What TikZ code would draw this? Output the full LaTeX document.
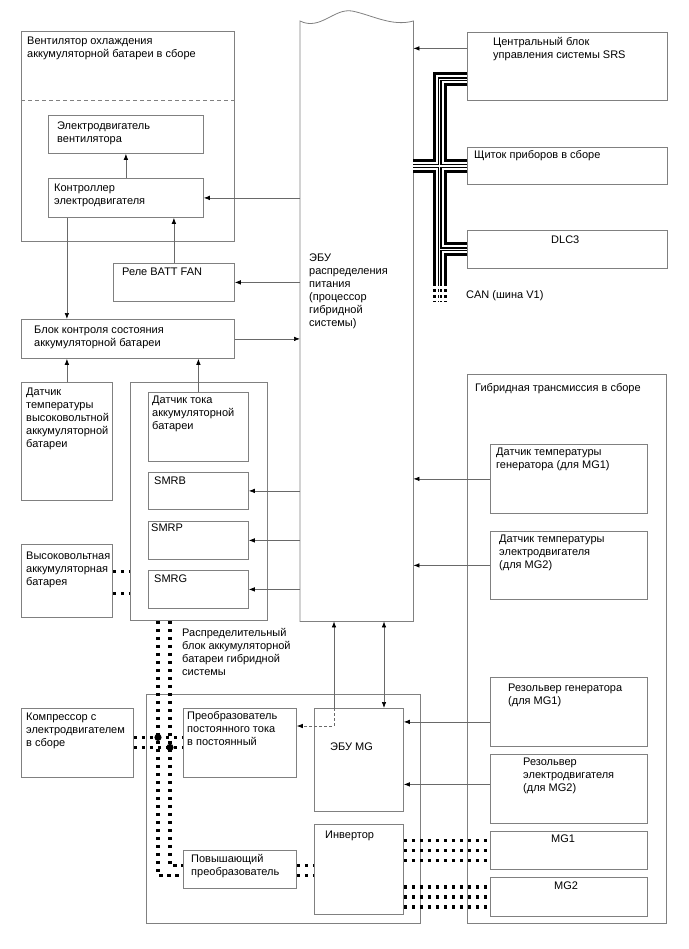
\documentclass[tikz,border=0pt]{standalone}
\usepackage{fontspec}
\setmainfont{Liberation Sans}
\usetikzlibrary{arrows.meta,positioning,calc}

\definecolor{boxgray}{RGB}{128,128,128}
\definecolor{linegray}{RGB}{105,105,105}

\tikzset{
  box/.style={draw=boxgray,line width=.8pt,inner sep=0,anchor=north west},
  txt/.style={font=\fontsize{11}{13}\selectfont,align=left,inner sep=0,anchor=north west},
  arr/.style={draw=linegray,line width=.7pt,->},
  power/.style={line width=3.6pt,dash pattern=on 3.6pt off 4.4pt},
}

\begin{document}
\begin{tikzpicture}[x=1pt,y=-1pt,>={Latex[length=6pt,width=4.5pt,color=black]}]
\useasboundingbox (0,0) rectangle (688,949);

% fan assembly
\node[box,minimum width=213,minimum height=210] (fanasm) at (21,31) {};
\node[txt] (fanasm-t) at (27,36.5) {Вентилятор охлаждения\\аккумуляторной батареи в сборе};
\draw[boxgray,line width=.8pt,dash pattern=on 4pt off 3pt] ([yshift=-69]fanasm.north west) -- ([yshift=-69]fanasm.north east);
\node[box,minimum width=155,minimum height=38] (fanmotor) at (48,115) {};
\node[txt] (fanmotor-t) at (57,122) {Электродвигатель\\вентилятора};
\node[box,minimum width=155,minimum height=39] (fanctrl) at (48,178) {};
\node[txt] (fanctrl-t) at (54,184) {Контроллер\\электродвигателя};
\node[box,minimum width=121,minimum height=38] (relay) at (113,263) {};
\node[txt] (relay-t) at (122,267.5) {Реле BATT FAN};

% battery side
\node[box,minimum width=213,minimum height=39] (bms) at (21,319) {};
\node[txt] (bms-t) at (34,326) {Блок контроля состояния\\аккумуляторной батареи};
\node[box,minimum width=91,minimum height=118] (tempsens) at (21,382) {};
\node[txt] (tempsens-t) at (26,388) {Датчик\\температуры\\высоковольтной\\аккумуляторной\\батареи};
\node[box,minimum width=91,minimum height=73] (hvbatt) at (21,544) {};
\node[txt] (hvbatt-t) at (26,551.5) {Высоковольтная\\аккумуляторная\\батарея};
\node[box,minimum width=137,minimum height=238] (junction) at (130,382) {};
\node[box,minimum width=100,minimum height=69] (cursens) at (148,392) {};
\node[txt] (cursens-t) at (152,396) {Датчик тока\\аккумуляторной\\батареи};
\node[box,minimum width=100,minimum height=37] (smrb) at (148,472) {};
\node[txt] (smrb-t) at (154,476.5) {SMRB};
\node[box,minimum width=100,minimum height=38] (smrp) at (148,521) {};
\node[txt] (smrp-t) at (151,524) {SMRP};
\node[box,minimum width=100,minimum height=38] (smrg) at (148,570) {};
\node[txt] (smrg-t) at (154,575) {SMRG};
\node[txt] (dist-t) at (182,628) {Распределительный\\блок аккумуляторной\\батареи гибридной\\системы};

% power management ecu
\node[inner sep=0,minimum width=113,minimum height=600,anchor=north west] (ecu) at (300,21) {};
\draw[boxgray,line width=.8pt] (ecu.north west) .. controls (320,31) and (334,8) .. (352,11)
  .. controls (372,15) and (392,27) .. (ecu.north east) -- (ecu.south east) -- (ecu.south west) -- cycle;
\node[txt] (ecu-t) at (309,253.5) {ЭБУ\\распределения\\питания\\(процессор\\гибридной\\системы)};

% CAN side
\node[box,minimum width=200,minimum height=68] (srs) at (467,32) {};
\node[txt] (srs-t) at (493,37.5) {Центральный блок\\управления системы SRS};
\node[box,minimum width=200,minimum height=37] (cluster) at (467,147) {};
\node[txt] (cluster-t) at (474,150.5) {Щиток приборов в сборе};
\node[box,minimum width=200,minimum height=38] (dlc) at (467,230) {};
\node[txt] (dlc-t) at (551,235.5) {DLC3};
\node[txt] (can-t) at (466,290.5) {CAN (шина V1)};

% transaxle
\node[box,minimum width=199,minimum height=549] (hvtrans) at (467,374) {};
\node[txt] (hvtrans-t) at (475,383) {Гибридная трансмиссия в сборе};
\node[box,minimum width=157,minimum height=69] (gentemp) at (490,444) {};
\node[txt] (gentemp-t) at (496,448) {Датчик температуры\\генератора (для MG1)};
\node[box,minimum width=157,minimum height=68] (mottemp) at (490,531) {};
\node[txt] (mottemp-t) at (499,535) {Датчик температуры\\электродвигателя\\(для MG2)};
\node[box,minimum width=157,minimum height=69] (genres) at (490,677) {};
\node[txt] (genres-t) at (508,684) {Резольвер генератора\\(для MG1)};
\node[box,minimum width=157,minimum height=69] (motres) at (490,754) {};
\node[txt] (motres-t) at (523,758) {Резольвер\\электродвигателя\\(для MG2)};
\node[box,minimum width=157,minimum height=38] (mg1) at (490,831) {};
\node[txt] (mg1-t) at (551,834.5) {MG1};
\node[box,minimum width=157,minimum height=39] (mg2) at (490,877) {};
\node[txt] (mg2-t) at (554,882) {MG2};

% inverter assembly
\node[box,minimum width=274,minimum height=229] (pcu) at (146,694) {};
\node[box,minimum width=112,minimum height=69] (comp) at (21,708) {};
\node[txt] (comp-t) at (26,713) {Компрессор с\\электродвигателем\\в сборе};
\node[box,minimum width=113,minimum height=69] (dcdc) at (183,708) {};
\node[txt] (dcdc-t) at (187,711.5) {Преобразователь\\постоянного тока\\в постоянный};
\node[box,minimum width=89,minimum height=103] (mgecu) at (314,708) {};
\node[txt] (mgecu-t) at (330,742.5) {ЭБУ MG};
\node[box,minimum width=113,minimum height=38] (boost) at (183,850) {};
\node[txt] (boost-t) at (191,854) {Повышающий\\преобразователь};
\node[box,minimum width=89,minimum height=90] (inverter) at (314,824) {};
\node[txt] (inverter-t) at (325,830.5) {Инвертор};

% signal lines
\draw[arr] (fanctrl.east -| ecu.west) -- (fanctrl.east);
\draw[arr] (fanctrl.north) -- (fanmotor.south);
\draw[arr] (relay.north) -- (relay.north |- fanctrl.south);
\draw[arr] (relay.east -| ecu.west) -- (relay.east);
\draw[arr] (tempsens.north |- fanctrl.south) -- (tempsens.north |- bms.north);
\draw[arr] (bms.east) -- (bms.east -| ecu.west);
\draw[arr] (tempsens.north) -- (tempsens.north |- bms.south);
\draw[arr] (cursens.north) -- (cursens.north |- bms.south);
\foreach \s in {smrb,smrp,smrg} \draw[arr] (\s.east -| ecu.west) -- (\s.east);
\draw[arr] ([yshift=18]srs.west) -- ([yshift=18]srs.west -| ecu.east);
\draw[arr] (gentemp.west) -- (gentemp.west -| ecu.east);
\draw[arr] (mottemp.west) -- (mottemp.west -| ecu.east);
\draw[arr] ([yshift=-10]genres.west) -- ([yshift=-10]genres.west -| mgecu.east);
\draw[arr] ([yshift=4.5]motres.west) -- ([yshift=4.5]motres.west -| mgecu.east);
\coordinate (sig) at ([xshift=20]mgecu.north west);
\coordinate (bend) at ([yshift=-18]sig);
\coordinate (link) at ([xshift=70]mgecu.north west);
\draw[arr] (sig) -- (sig |- ecu.south);
\draw[arr,dash pattern=on 3pt off 2pt] (sig) -- (bend) -- (bend -| dcdc.east);
\draw[arr,<->] (link) -- (link |- ecu.south);

% CAN bus
\coordinate (cantop) at (439.5,79.5);
\coordinate (canend) at (439.5,283);
\coordinate (cantail) at (439.5,302);
\foreach \w/\c in {14/black,8/white,4/black,1.6/white}{
  \draw[line width=\w pt,\c] (cantop -| srs.west) -- (cantop) -- (canend)
    (cluster.west -| ecu.east) -- (cluster.west)
    (dlc.west -| cantop) -- (dlc.west);
  \draw[line width=\w pt,\c,dash pattern=on 3pt off 3pt] (canend) -- (cantail);
}

% high voltage lines
\coordinate (dl) at ([xshift=28]junction.south west);
\coordinate (dr) at ([xshift=40]junction.south west);
\coordinate (cu) at ([yshift=5.5]comp.east);
\coordinate (cl) at ([yshift=-4.5]comp.east);
\draw[power] ([yshift=9.5]hvbatt.east) -- ([yshift=9.5]hvbatt.east -| junction.west);
\draw[power] ([yshift=-12.5]hvbatt.east) -- ([yshift=-12.5]hvbatt.east -| junction.west);
\draw[power] (dl) |- ([yshift=-6]boost.west);
\draw[power] (dr) |- ([yshift=4]boost.west);
\draw[power] (cu) -- (cu -| dcdc.west);
\draw[power] (cl) -- (cl -| dcdc.west);
\fill (dl |- cu) circle (3.6);
\fill (dr |- cl) circle (3.6);
\draw[power] ([yshift=4]boost.east) -- ([yshift=4]boost.east -| inverter.west);
\draw[power] ([yshift=-6]boost.east) -- ([yshift=-6]boost.east -| inverter.west);
\foreach \d in {10,0,-10}{
  \draw[power] ([yshift=\d]mg1.west -| inverter.east) -- ([yshift=\d]mg1.west);
  \draw[power] ([yshift=\d]mg2.west -| inverter.east) -- ([yshift=\d]mg2.west);
}
\end{tikzpicture}
\end{document}
